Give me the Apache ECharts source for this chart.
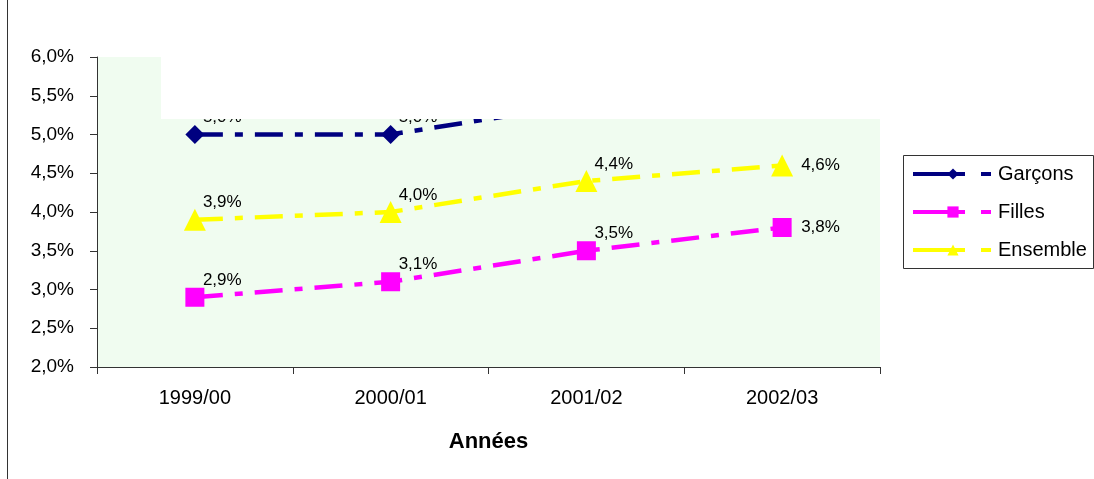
<!DOCTYPE html>
<html>
<head>
<meta charset="utf-8">
<script src="https://cdn.jsdelivr.net/npm/echarts@6/dist/echarts.min.js"></script>
<style>
html,body{margin:0;padding:0;background:#fff;}
#chart{width:1094px;height:479px;}
</style>
</head>
<body>
<div id="chart"></div>
<script>
// ---- data ----
const categories = ['1999/00', '2000/01', '2001/02', '2002/03'];
const garcons = [5.0, 5.0, 5.4, 5.5];
const filles = [2.9, 3.1, 3.5, 3.8];
const ensemble = [3.9, 4.0, 4.4, 4.6];
const yTicks = [2.0, 2.5, 3.0, 3.5, 4.0, 4.5, 5.0, 5.5, 6.0];
const seriesNames = ['Garçons', 'Filles', 'Ensemble'];

const FONT = '"Liberation Sans", Arial, sans-serif';
const fmt = v => v.toFixed(1).replace('.', ',') + '%';
const dash = [28, 12, 8, 12];

function buildData(values, size) {
  return values.map((v, i) => {
    const last = i === values.length - 1;
    const L = last ? 19 : 8, V = last ? 0 : -17;
    return {
      value: v,
      label: { offset: [L - size / 2 - 5, V] }
    };
  });
}

function mkSeries(name, values, color, symbol, size) {
  return {
    name: name,
    type: 'line',
    data: buildData(values, size),
    symbol: symbol,
    symbolSize: size,
    showAllSymbol: true,
    itemStyle: { color: color },
    lineStyle: { color: color, width: 4.5, type: dash },
    label: {
      show: true,
      position: 'right',
      distance: 5,
      color: '#000',
      fontFamily: FONT,
      fontSize: 17,
      formatter: p => fmt(p.value)
    },
    emphasis: { disabled: true },
    animation: false
  };
}

const chart = echarts.init(document.getElementById('chart'), null, { renderer: 'canvas' });
chart.setOption({
  backgroundColor: '#ffffff',
  animation: false,
  grid: {
    left: 97, right: 214, top: 57, bottom: 112,
    show: true, backgroundColor: '#f0fcf0', borderWidth: 0
  },
  xAxis: {
    type: 'category',
    data: categories,
    boundaryGap: true,
    name: 'Années',
    nameLocation: 'middle',
    nameGap: 64,
    nameTextStyle: { fontFamily: FONT, fontSize: 22, fontWeight: 'bold', color: '#000' },
    axisLine: { lineStyle: { color: '#333', width: 1 } },
    axisTick: { show: true, interval: 0, length: 7, lineStyle: { color: '#333' } },
    axisLabel: { fontFamily: FONT, fontSize: 20, color: '#000', margin: 21, interval: 0 },
    splitLine: { show: false }
  },
  yAxis: {
    type: 'value',
    min: yTicks[0],
    max: yTicks[yTicks.length - 1],
    interval: 0.5,
    axisLine: { show: true, lineStyle: { color: '#333', width: 1 } },
    axisTick: { show: true, length: 7, lineStyle: { color: '#333' } },
    axisLabel: { fontFamily: FONT, fontSize: 19, color: '#000', margin: 23, formatter: v => fmt(v) },
    splitLine: { show: false }
  },
  legend: {
    orient: 'vertical',
    left: 906,
    top: 159,
    padding: 5,
    itemWidth: 80,
    itemHeight: 14,
    itemGap: 18,
    textStyle: { fontFamily: FONT, fontSize: 20, color: '#000' },
    lineStyle: { width: 4, type: [52, 16, 10, 200] },
    data: seriesNames,
    selectedMode: false
  },
  series: [
    mkSeries(seriesNames[0], garcons, '#000080', 'diamond', 19),
    mkSeries(seriesNames[1], filles, '#ff00ff', 'rect', 19),
    mkSeries(seriesNames[2], ensemble, '#ffff00', 'triangle', 22)
  ],
  graphic: [
    {
      type: 'rect', z: 100, silent: true,
      shape: { x: 161, y: 0, width: 933, height: 119 },
      style: { fill: '#ffffff' }
    },
    {
      type: 'rect', z: 101, silent: true,
      shape: { x: 903.5, y: 155.5, width: 190, height: 113 },
      style: { fill: 'none', stroke: '#333', lineWidth: 1 }
    },
    {
      type: 'line', z: 101, silent: true,
      shape: { x1: 7.5, y1: 0, x2: 7.5, y2: 479 },
      style: { stroke: '#333', lineWidth: 1 }
    }
  ]
});
</script>
</body>
</html>
